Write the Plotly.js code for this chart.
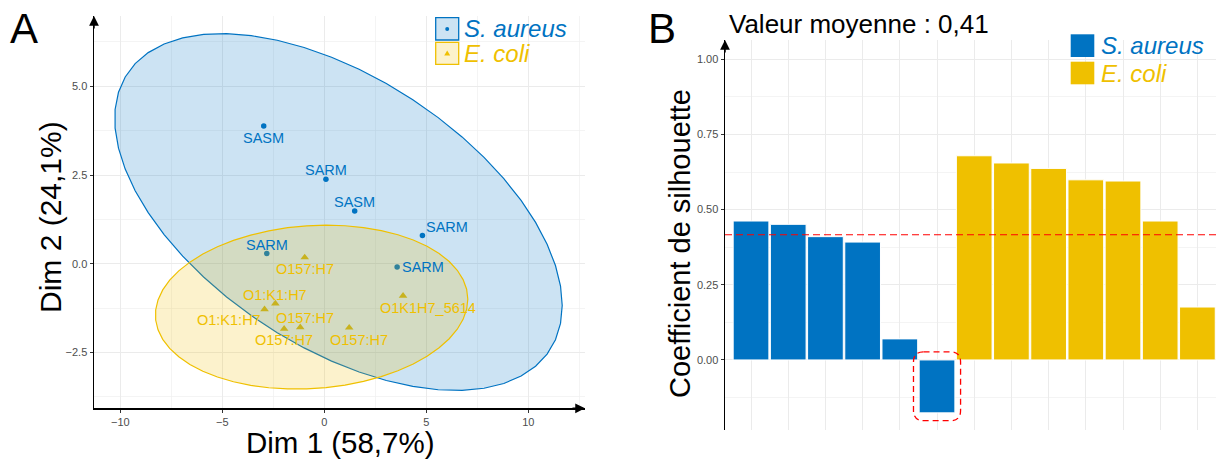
<!DOCTYPE html>
<html><head><meta charset="utf-8">
<script src="https://cdn.plot.ly/plotly-3.0.1.min.js"></script>
<style>html,body{margin:0;padding:0;background:#fff;} #chart{width:1216px;height:459px;}</style>
</head><body><div id="chart"></div>
<script>
// ---------- Panel A : PCA individuals ----------
const groupNames = ["S. aureus", "E. coli"];
const saureusLabels = ["SASM", "SARM", "SASM", "SARM", "SARM", "SARM"];
const saureusDim1 = [-2.97, 0.08, 1.49, 4.81, -2.82, 3.57];
const saureusDim2 = [3.88, 2.38, 1.49, 0.80, 0.29, -0.09];
const ecoliLabels = ["O157:H7", "O1:K1:H7", "O1:K1:H7", "O157:H7", "O157:H7", "O157:H7", "O1K1H7_5614"];
const ecoliDim1 = [-0.96, -2.40, -2.93, -1.18, -1.97, 1.22, 3.86];
const ecoliDim2 = [0.18, -1.12, -1.28, -1.79, -1.83, -1.80, -0.90];
const xTicksA = [-10, -5, 0, 5, 10];
const yTicksA = [-2.5, 0, 2.5, 5];

// ---------- Panel B : silhouette ----------
const silSaureus = [0.462, 0.451, 0.410, 0.392, 0.070, -0.176];
const silEcoli = [0.679, 0.655, 0.637, 0.599, 0.595, 0.462, 0.176];
const yTicksB = [0, 0.25, 0.5, 0.75, 1];

// ---------- styling / layout helpers ----------
const BLUE = "#0073C2", YELLOW = "#EFC000";
const BLUE_F = "rgba(0,115,194,0.2)", YELLOW_F = "rgba(239,192,0,0.2)";
const FONT = "Liberation Sans, Arial, sans-serif";
const W = 1216, H = 459;
const px = v => v / W, py = v => 1 - v / H;
// label pixel shifts [dx, dy(up)]
const saShift = [[0, -12], [0, 9], [0, 9], [24.5, 8], [0, 9], [26, 0]];
const ecShift = [[0, -12], [0, 9], [-36, -11], [5, 9], [0, -11], [10, -12], [25, -12]];

function mean(a) { return a.reduce((s, v) => s + v, 0) / a.length; }
// ggplot2 stat_ellipse(type = "norm", level = 0.95)
function normEllipse(xs, ys, level, segments) {
  const n = xs.length, mx = mean(xs), my = mean(ys);
  let sxx = 0, syy = 0, sxy = 0;
  for (let i = 0; i < n; i++) {
    const dx = xs[i] - mx, dy = ys[i] - my;
    sxx += dx * dx; syy += dy * dy; sxy += dx * dy;
  }
  sxx /= (n - 1); syy /= (n - 1); sxy /= (n - 1);
  const a = Math.sqrt(sxx), b = sxy / a, c = Math.sqrt(syy - b * b);
  const dfd = n - 1;
  const qf = dfd / 2 * (Math.pow(1 - level, -2 / dfd) - 1);
  const r = Math.sqrt(2 * qf);
  const ex = [], ey = [];
  for (let k = 0; k <= segments; k++) {
    const t = 2 * Math.PI * k / segments;
    ex.push(mx + r * a * Math.cos(t));
    ey.push(my + r * (b * Math.cos(t) + c * Math.sin(t)));
  }
  return { x: ex, y: ey };
}

const elSa = normEllipse(saureusDim1, saureusDim2, 0.95, 51);
const elEc = normEllipse(ecoliDim1, ecoliDim2, 0.95, 51);

const xB_sa = silSaureus.map((_, i) => i + 1);
const xB_ec = silEcoli.map((_, i) => silSaureus.length + i + 1);
const allSil = silSaureus.concat(silEcoli);
const meanSil = mean(allSil);

const traces = [
  { type: "scatter", mode: "markers", x: saureusDim1, y: saureusDim2, xaxis: "x", yaxis: "y",
    marker: { color: BLUE, size: 5.5, symbol: "circle" }, showlegend: false, hoverinfo: "skip" },
  { type: "scatter", mode: "markers", x: ecoliDim1, y: ecoliDim2, xaxis: "x", yaxis: "y",
    marker: { color: YELLOW, size: 7.5, symbol: "triangle-up" }, showlegend: false, hoverinfo: "skip" },
  { type: "scatter", mode: "lines", x: elSa.x, y: elSa.y, fill: "toself", fillcolor: BLUE_F,
    line: { color: BLUE, width: 1.2 }, xaxis: "x", yaxis: "y", showlegend: false, hoverinfo: "skip" },
  { type: "scatter", mode: "lines", x: elEc.x, y: elEc.y, fill: "toself", fillcolor: YELLOW_F,
    line: { color: YELLOW, width: 1.2 }, xaxis: "x", yaxis: "y", showlegend: false, hoverinfo: "skip" },
  { type: "bar", x: xB_sa, y: silSaureus, xaxis: "x2", yaxis: "y2", width: 0.96,
    marker: { color: BLUE, line: { color: "#ffffff", width: 1 } }, showlegend: false, hoverinfo: "skip" },
  { type: "bar", x: xB_ec, y: silEcoli, xaxis: "x2", yaxis: "y2", width: 0.96,
    marker: { color: YELLOW, line: { color: "#ffffff", width: 1 } }, showlegend: false, hoverinfo: "skip" }
];

const annotations = [];
function lab(xs, ys, labels, shifts, color) {
  labels.forEach((t, i) => annotations.push({
    xref: "x", yref: "y", x: xs[i], y: ys[i], text: t, showarrow: false,
    xanchor: "center", yanchor: "middle", xshift: shifts[i][0], yshift: shifts[i][1],
    font: { family: FONT, size: 14.5, color: color }
  }));
}
lab(saureusDim1, saureusDim2, saureusLabels, saShift, BLUE);
lab(ecoliDim1, ecoliDim2, ecoliLabels, ecShift, YELLOW);

function txt(x, y, t, size, opts) {
  annotations.push(Object.assign({
    xref: "paper", yref: "paper", x: px(x), y: py(y), text: t, showarrow: false,
    xanchor: "left", yanchor: "middle", font: { family: FONT, size: size, color: "#000" }
  }, opts || {}));
}
// panel letters and titles
txt(8, 28, "A", 42);
txt(646, 28, "B", 42);
txt(727, 24, "Valeur moyenne : 0,41", 26);
txt(340, 442, "Dim 1 (58,7%)", 29.5, { xanchor: "center" });
txt(50, 217, "Dim 2 (24,1%)", 30, { xanchor: "center", textangle: -90 });
txt(680, 244, "Coefficient de silhouette", 29, { xanchor: "center", textangle: -90 });
// legends text
txt(462, 29, "<i>" + groupNames[0] + "</i>", 24, { font: { family: FONT, size: 24, color: BLUE } });
txt(462, 53.5, "<i>" + groupNames[1] + "</i>", 24, { font: { family: FONT, size: 24, color: YELLOW } });
txt(1099, 45.7, "<i>" + groupNames[0] + "</i>", 24, { font: { family: FONT, size: 24, color: BLUE } });
txt(1099, 73, "<i>" + groupNames[1] + "</i>", 24, { font: { family: FONT, size: 24, color: YELLOW } });

// axis arrows
const arrowCommon = { text: "", showarrow: true, arrowhead: 2, arrowsize: 1.3, arrowwidth: 1.5, arrowcolor: "#000" };
annotations.push(Object.assign({ xref: "x domain", yref: "y domain", x: 1, y: 0, ax: -14, ay: 0 }, arrowCommon));
annotations.push(Object.assign({ xref: "x domain", yref: "y domain", x: 0, y: 1, ax: 0, ay: 14 }, arrowCommon));
annotations.push(Object.assign({ xref: "x2 domain", yref: "y2 domain", x: 0, y: 1, ax: 0, ay: 14 }, arrowCommon));

// shapes
const shapes = [];
shapes.push({ type: "rect", xref: "paper", yref: "paper", x0: px(435.7), x1: px(458.7), y0: py(17.7), y1: py(40),
  line: { color: BLUE, width: 1.3 }, fillcolor: BLUE_F });
shapes.push({ type: "circle", xref: "paper", yref: "paper", x0: px(445.2), x1: px(449.2), y0: py(26.9), y1: py(30.9),
  line: { width: 0 }, fillcolor: BLUE });
shapes.push({ type: "rect", xref: "paper", yref: "paper", x0: px(435.7), x1: px(458.7), y0: py(42.3), y1: py(64.3),
  line: { color: YELLOW, width: 1.3 }, fillcolor: YELLOW_F });
shapes.push({ type: "path", xref: "paper", yref: "paper",
  path: `M ${px(444.2)},${py(55.6)} L ${px(450.2)},${py(55.6)} L ${px(447.2)},${py(50.4)} Z`,
  line: { width: 0 }, fillcolor: YELLOW });
shapes.push({ type: "rect", xref: "paper", yref: "paper", x0: px(1070.7), x1: px(1094.3), y0: py(34.3), y1: py(57),
  line: { width: 0 }, fillcolor: BLUE });
shapes.push({ type: "rect", xref: "paper", yref: "paper", x0: px(1070.7), x1: px(1094.3), y0: py(61.7), y1: py(84.3),
  line: { width: 0 }, fillcolor: YELLOW });
// mean line
shapes.push({ type: "line", xref: "x2 domain", yref: "y2", x0: 0, x1: 1, y0: meanSil, y1: meanSil,
  line: { color: "#FF0000", width: 1.2, dash: "7px,4px" } });
// rounded dashed box around the negative silhouette bar
(function () {
  let iMin = 0; allSil.forEach((v, i) => { if (v < allSil[iMin]) iMin = i; });
  const cx = iMin + 1, x0 = cx - 0.633, x1 = cx + 0.633, y0 = allSil[iMin] - 0.026, y1 = 0.027;
  const rx = 0.27, ry = 0.034;
  const p = `M ${x0 + rx},${y1} L ${x1 - rx},${y1} Q ${x1},${y1} ${x1},${y1 - ry} L ${x1},${y0 + ry} ` +
    `Q ${x1},${y0} ${x1 - rx},${y0} L ${x0 + rx},${y0} Q ${x0},${y0} ${x0},${y0 + ry} L ${x0},${y1 - ry} ` +
    `Q ${x0},${y1} ${x0 + rx},${y1} Z`;
  shapes.push({ type: "path", xref: "x2", yref: "y2", path: p, line: { color: "#FF0000", width: 1.3, dash: "6px,4px" } });
})();

const tickFont = { family: FONT, size: 11, color: "#4D4D4D" };
const grid = { showgrid: true, gridcolor: "#EBEBEB", gridwidth: 1, zeroline: false };
const layout = {
  width: W, height: H, margin: { l: 0, r: 0, t: 0, b: 0, pad: 0 },
  paper_bgcolor: "#fff", plot_bgcolor: "rgba(0,0,0,0)", showlegend: false, hovermode: false,
  barmode: "overlay",
  xaxis: Object.assign({ domain: [px(94), px(585)], range: [-11.29, 12.78], tickmode: "array", tickvals: xTicksA,
    ticks: "outside", ticklen: 3, tickcolor: "#333", tickfont: tickFont, showline: true, linecolor: "#000", linewidth: 1.5,
    minor: { dtick: 2.5, tick0: 0, showgrid: true, gridcolor: "#F0F0F0", gridwidth: 0.7 }, anchor: "y" }, grid),
  yaxis: Object.assign({ domain: [py(408.3), py(16)], range: [-4.07, 6.98], tickmode: "array", tickvals: yTicksA,
    tickformat: ".1f", ticks: "outside", ticklen: 3, tickcolor: "#333", tickfont: tickFont, showline: true,
    linecolor: "#000", linewidth: 1.5, minor: { dtick: 1.25, tick0: 0, showgrid: true, gridcolor: "#F0F0F0", gridwidth: 0.7 },
    anchor: "x" }, grid),
  xaxis2: Object.assign({ domain: [px(725), 1], range: [0.3, 13.5], tickmode: "array",
    tickvals: allSil.map((_, i) => i + 1), showticklabels: false, ticks: "", showline: false, anchor: "y2" }, grid),
  yaxis2: Object.assign({ domain: [py(430), py(40)], range: [-0.233, 1.064], tickmode: "array", tickvals: yTicksB,
    tickformat: ".2f", ticks: "outside", ticklen: 3, tickcolor: "#333", tickfont: tickFont, showline: true,
    linecolor: "#000", linewidth: 1.5, minor: { dtick: 0.125, tick0: 0, showgrid: true, gridcolor: "#F0F0F0", gridwidth: 0.7 },
    anchor: "x2" }, grid),
  annotations: annotations, shapes: shapes
};
Plotly.newPlot("chart", traces, layout, { staticPlot: true, displayModeBar: false });
</script></body></html>
